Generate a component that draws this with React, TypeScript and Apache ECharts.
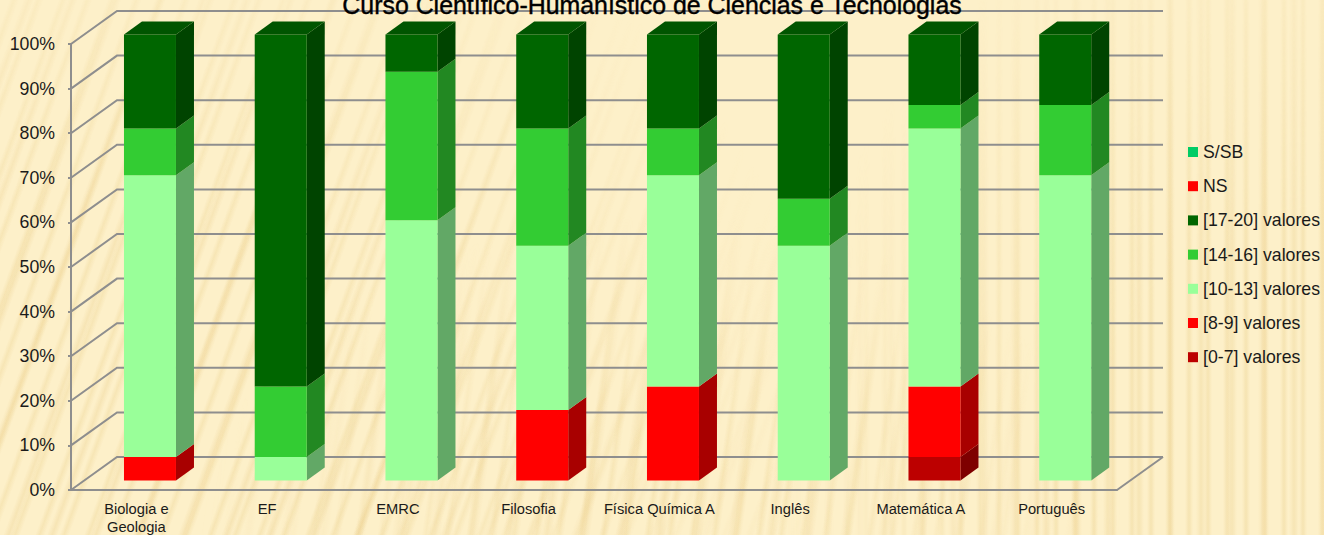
import React, { useEffect, useRef } from "react";
import * as echarts from "echarts";

const TITLE = "Curso Científico-Humanístico de Ciências e Tecnologias";
const categories = ["Biologia e\nGeologia", "EF", "EMRC", "Filosofia", "Física Química A", "Inglês", "Matemática A", "Português"];
const yTicks = [0, 10, 20, 30, 40, 50, 60, 70, 80, 90, 100];

const v0to7 = [0, 0, 0, 0, 0, 0, 5.26, 0];
const v8to9 = [5.26, 0, 0, 15.79, 21.05, 0, 15.79, 0];
const v10to13 = [63.16, 5.26, 58.33, 36.84, 47.37, 52.63, 57.89, 68.42];
const v14to16 = [10.53, 15.79, 33.33, 26.32, 10.53, 10.53, 5.26, 15.79];
const v17to20 = [21.05, 78.95, 8.34, 21.05, 21.05, 36.84, 15.8, 15.79];
const vNS = [0, 0, 0, 0, 0, 0, 0, 0];
const vSSB = [0, 0, 0, 0, 0, 0, 0, 0];

const stackSeries = [
  { name: "[0-7] valores", values: v0to7, front: "#BC0000", side: "#7E0000", top: "#9A0000" },
  { name: "[8-9] valores", values: v8to9, front: "#FF0000", side: "#A80000", top: "#D00000" },
  { name: "[10-13] valores", values: v10to13, front: "#99FF99", side: "#62A866", top: "#80D080" },
  { name: "[14-16] valores", values: v14to16, front: "#33CC33", side: "#228822", top: "#2AA82A" },
  { name: "[17-20] valores", values: v17to20, front: "#006600", side: "#004400", top: "#005500" },
  { name: "NS", values: vNS, front: "#FF0000", side: "#A80000", top: "#D00000" },
  { name: "S/SB", values: vSSB, front: "#00CC66", side: "#008844", top: "#00AA55" },
];
const legendOrder = ["S/SB", "NS", "[17-20] valores", "[14-16] valores", "[10-13] valores", "[8-9] valores", "[0-7] valores"];

const GRID_LEFT = 71;
const GRID_TOP = 44;
const GRID_W = 1046;
const GRID_H = 446;
const WALL_DX = 46;
const WALL_DY = -33;
const BAR_DX = 13.6;
const BAR_DY = -9.5;
const DEPTH_DX = 18;
const DEPTH_DY = -13;
const BAR_W = 52;
const GRID_COLOR = "#8E8E8E";
const FONT = "'Liberation Sans', Arial, sans-serif";

function buildOption() {
  const running = categories.map(() => 0);
  const barSeries = stackSeries.map((s) => {
    const data = s.values.map((v, i) => {
      const start = running[i];
      running[i] += v;
      return [i, start, start + v];
    });
    return {
      name: s.name,
      type: "custom",
      coordinateSystem: "cartesian2d",
      itemStyle: { color: s.front },
      encode: { x: 0, y: [1, 2] },
      z: 5,
      data,
      renderItem: (_p: any, api: any) => {
        const idx = api.value(0);
        const a = api.value(1);
        const b = api.value(2);
        if (b - a <= 0) return { type: "group", children: [] };
        const lo = api.coord([idx, a]);
        const hi = api.coord([idx, b]);
        const xl = lo[0] - BAR_W / 2 + BAR_DX;
        const xr = xl + BAR_W;
        const yb = lo[1] + BAR_DY;
        const yt = hi[1] + BAR_DY;
        const children: any[] = [
          {
            type: "polygon",
            shape: { points: [[xr, yb], [xr + DEPTH_DX, yb + DEPTH_DY], [xr + DEPTH_DX, yt + DEPTH_DY], [xr, yt]] },
            style: { fill: s.side },
          },
          {
            type: "polygon",
            shape: { points: [[xl, yb], [xr, yb], [xr, yt], [xl, yt]] },
            style: { fill: s.front },
          },
        ];
        if (b >= 99.9) {
          children.push({
            type: "polygon",
            shape: { points: [[xl, yt], [xr, yt], [xr + DEPTH_DX, yt + DEPTH_DY], [xl + DEPTH_DX, yt + DEPTH_DY]] },
            style: { fill: s.top },
          });
        }
        return { type: "group", children };
      },
    };
  });

  const wallSeries = {
    name: "wall",
    type: "custom",
    coordinateSystem: "cartesian2d",
    silent: true,
    z: 1,
    data: yTicks.map((t) => [0, t]),
    encode: { x: 0, y: 1 },
    renderItem: (params: any, api: any) => {
      const y = api.coord([0, api.value(1)])[1];
      const x0 = params.coordSys.x;
      const x1 = x0 + params.coordSys.width;
      const lineStyle = { stroke: GRID_COLOR, lineWidth: 2, fill: "none" };
      const children: any[] = [
        {
          type: "polyline",
          shape: { points: [[x0, y], [x0 + WALL_DX, y + WALL_DY], [x1 + WALL_DX, y + WALL_DY]] },
          style: lineStyle,
        },
      ];
      if (api.value(1) === 0) {
        children.push({
          type: "line",
          shape: { x1: x1, y1: y, x2: x1 + WALL_DX, y2: y + WALL_DY },
          style: lineStyle,
        });
      }
      return { type: "group", children };
    },
  };

  return {
    animation: false,
    backgroundColor: "transparent",
    title: {
      text: TITLE,
      left: 647,
      top: -13,
      textAlign: "center",
      textStyle: { fontFamily: FONT, fontSize: 24.9, fontWeight: "normal", color: "#000", textBorderColor: "#000", textBorderWidth: 0.4 },
    },
    legend: {
      orient: "vertical",
      left: 1188,
      top: 143,
      padding: 0,
      data: legendOrder.map((name) => ({ name, icon: "rect" })),
      itemWidth: 10,
      itemHeight: 10,
      itemGap: 16.2,
      selectedMode: false,
      textStyle: { fontFamily: FONT, fontSize: 17.7, lineHeight: 18, color: "#1a1a1a" },
    },
    grid: { left: GRID_LEFT, top: GRID_TOP, width: GRID_W, height: GRID_H, containLabel: false, outerBoundsMode: "none" },
    xAxis: {
      type: "category",
      data: categories,
      axisLine: { lineStyle: { color: GRID_COLOR, width: 2 } },
      axisTick: { length: 4, lineStyle: { color: GRID_COLOR, width: 2 } },
      axisLabel: { interval: 0, fontFamily: FONT, fontSize: 14.7, color: "#1a1a1a", lineHeight: 18, margin: 10 },
      splitLine: { show: false },
    },
    yAxis: {
      type: "value",
      min: 0,
      max: 100,
      interval: 10,
      axisLine: { show: true, lineStyle: { color: GRID_COLOR, width: 2 } },
      axisTick: { show: true, length: 3, lineStyle: { color: GRID_COLOR, width: 2 } },
      axisLabel: { formatter: "{value}%", fontFamily: FONT, fontSize: 17.7, color: "#1a1a1a", margin: 16 },
      splitLine: { show: false },
    },
    series: [wallSeries, ...barSeries],
  };
}

const layer = (style: React.CSSProperties): React.CSSProperties => ({ position: "absolute", inset: 0, ...style });

export default function App() {
  const ref = useRef<HTMLDivElement>(null);
  useEffect(() => {
    const chart = echarts.init(ref.current as HTMLDivElement, undefined, { renderer: "svg" });
    chart.setOption(buildOption() as any);
    return () => chart.dispose();
  }, []);
  const maskLeft = "radial-gradient(ellipse 55% 120% at 8% 85%, #000 35%, transparent 100%)";
  const maskMid = "radial-gradient(ellipse 35% 60% at 50% 100%, #000 20%, transparent 100%)";
  const maskRight = "radial-gradient(ellipse 42% 130% at 100% 100%, #000 45%, transparent 100%)";
  return (
    <div style={{ position: "absolute", left: 0, top: 0, width: 1324, height: 535, overflow: "hidden", background: "#FDF0C9" }}>
      <div
        style={layer({
          background:
            "repeating-linear-gradient(110deg, transparent 0 9px, rgba(236,208,140,0.32) 13px, transparent 18px 23px), repeating-linear-gradient(110deg, transparent 0 22px, rgba(232,200,130,0.28) 27px, transparent 32px 41px)",
          WebkitMaskImage: maskLeft,
          maskImage: maskLeft,
        })}
      />
      <div
        style={layer({
          background:
            "repeating-linear-gradient(98deg, transparent 0 8px, rgba(236,208,140,0.3) 12px, transparent 17px 22px), repeating-linear-gradient(98deg, transparent 0 18px, rgba(232,200,130,0.25) 24px, transparent 30px 37px)",
          WebkitMaskImage: maskMid,
          maskImage: maskMid,
        })}
      />
      <div
        style={layer({
          background:
            "repeating-linear-gradient(90deg, transparent 0 7px, rgba(236,208,140,0.38) 11px, transparent 15px 19px), repeating-linear-gradient(90deg, transparent 0 18px, rgba(232,200,130,0.28) 23px, transparent 28px 31px)",
          WebkitMaskImage: maskRight,
          maskImage: maskRight,
        })}
      />
      <div ref={ref} style={layer({ width: 1324, height: 535 })} />
    </div>
  );
}
